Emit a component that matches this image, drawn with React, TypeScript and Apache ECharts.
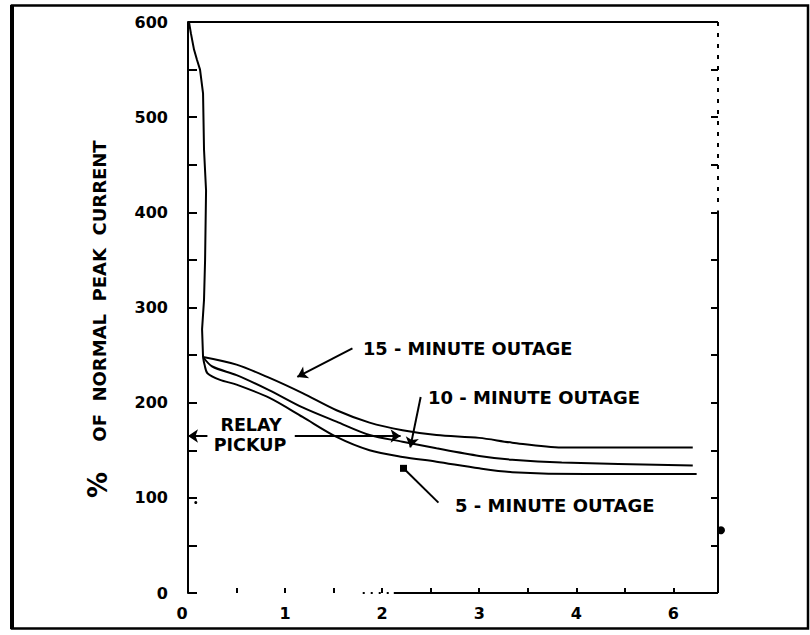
import React, { useEffect, useRef } from "react";
import * as echarts from "echarts";

// Axis labels
const xTickLabels = ["0", "1", "2", "3", "4", "6"];
const yTickLabels = ["0", "100", "200", "300", "400", "500", "600"];
const xMax = 5.46;

// Initial inrush (time in hours, % of normal peak)
const surgeT = [0.01, 0.03, 0.062, 0.093, 0.124, 0.155, 0.165, 0.186, 0.176, 0.165, 0.145, 0.155];
const surgeV = [600, 588, 571, 560, 550, 525, 466, 423, 350, 308, 277, 248];

// Cold-load pickup curves
const outage15T = [0.155, 0.5, 0.84, 1.18, 1.53, 1.87, 2.21, 2.56, 3.0, 3.34, 3.85, 5.2];
const outage15V = [248, 240, 226, 210, 192, 179, 171, 166, 163, 158, 153, 153];
const outage10T = [0.155, 0.25, 0.5, 0.84, 1.18, 1.53, 1.87, 2.21, 2.56, 3.0, 3.34, 3.85, 5.2];
const outage10V = [248, 238, 229, 213, 195, 180, 166, 159, 152, 144, 140, 137, 134];
const outage5T = [0.155, 0.17, 0.2, 0.33, 0.5, 0.84, 1.18, 1.53, 1.87, 2.21, 2.56, 3.0, 3.34, 4.1, 5.24];
const outage5V = [248, 240, 231, 224, 219, 205, 185, 164, 150, 143, 138, 131, 127, 125, 125];

const relayPickup = 165;

const zip = (t: number[], v: number[]) => t.map((x, i) => [x, v[i]]);

const FONT = "DejaVu Sans";
const BLACK = "#000";

export default function App() {
  const ref = useRef<HTMLDivElement>(null);
  useEffect(() => {
    if (!ref.current) return;
    const chart = echarts.init(ref.current, undefined, { renderer: "svg" });
    const curveLine = { color: BLACK, width: 2 };
    const txt = (text: string, x: number, y: number, align = "left", size = 18) => ({
      type: "text",
      x,
      y,
      style: {
        text,
        fill: BLACK,
        font: `bold ${size}px "${FONT}"`,
        textAlign: align,
        textVerticalAlign: "middle",
      },
    });
    chart.setOption({
      animation: false,
      backgroundColor: "#fff",
      grid: { left: 188, right: 92, top: 22, bottom: 42 },
      xAxis: {
        type: "value",
        min: 0,
        max: xMax,
        interval: 0.5,
        axisLine: { show: false },
        axisTick: { show: true, inside: true, length: 5, lineStyle: { color: BLACK, width: 2 } },
        axisLabel: {
          formatter: (v: number) =>
            v === 0 ? "{z|" + xTickLabels[0] + "}" : Number.isInteger(v) ? xTickLabels[v] ?? "" : "",
          color: BLACK,
          fontSize: 16,
          fontWeight: "bold",
          fontFamily: FONT,
          margin: 12,
          rich: {
            z: { fontSize: 16, fontWeight: "bold", fontFamily: FONT, color: BLACK, padding: [0, 12, 0, 0] },
          },
        },
        splitLine: { show: false },
      },
      yAxis: [
        {
          type: "value",
          min: 0,
          max: 600,
          interval: 50,
          axisLine: { show: true, lineStyle: { color: BLACK, width: 2 } },
          axisTick: { show: true, inside: true, length: 9, lineStyle: { color: BLACK, width: 2 } },
          axisLabel: {
            formatter: (v: number) => (v % 100 === 0 ? yTickLabels[v / 100] : ""),
            color: BLACK,
            fontSize: 16,
            fontWeight: "bold",
            fontFamily: FONT,
            margin: 20,
          },
          splitLine: { show: false },
        },
        {
          type: "value",
          position: "right",
          min: 0,
          max: 600,
          interval: 50,
          axisLine: { show: false },
          axisTick: { show: true, inside: true, length: 7, lineStyle: { color: BLACK, width: 2 } },
          axisLabel: { show: false },
          splitLine: { show: false },
        },
      ],
      series: [
        {
          name: "surge",
          type: "line",
          data: zip(surgeT, surgeV),
          symbol: "none",
          lineStyle: curveLine,
          markLine: {
            silent: true,
            symbol: "none",
            label: { show: false },
            lineStyle: { color: BLACK, width: 2, type: "solid" },
            data: [
              [{ coord: [0, 600] }, { coord: [xMax, 600] }],
              [{ coord: [xMax, 402] }, { coord: [xMax, 0] }],
              [{ coord: [xMax, 600], lineStyle: { type: [4, 7], width: 2 } }, { coord: [xMax, 406] }],
              [{ coord: [2.12, 0] }, { coord: [xMax, 0] }],
              [{ coord: [1.8, 0], lineStyle: { type: [2, 6], width: 2 } }, { coord: [2.12, 0] }],
            ],
          },
          markPoint: {
            silent: true,
            label: { show: false },
            data: [
              { coord: [xMax, 66], symbol: "circle", symbolSize: 8, symbolOffset: [3, 0], itemStyle: { color: BLACK } },
              { coord: [0.08, 95], symbol: "circle", symbolSize: 3, itemStyle: { color: BLACK } },
            ],
          },
        },
        {
          name: "15 - MINUTE OUTAGE",
          type: "line",
          data: zip(outage15T, outage15V),
          symbol: "none",
          smooth: 0.3,
          lineStyle: curveLine,
        },
        {
          name: "10 - MINUTE OUTAGE",
          type: "line",
          data: zip(outage10T, outage10V),
          symbol: "none",
          smooth: 0.3,
          lineStyle: curveLine,
        },
        {
          name: "5 - MINUTE OUTAGE",
          type: "line",
          data: zip(outage5T, outage5V),
          symbol: "none",
          smooth: 0.3,
          lineStyle: curveLine,
          markLine: {
            silent: true,
            symbol: ["none", "arrow"],
            symbolSize: 10,
            label: { show: false },
            lineStyle: { color: BLACK, width: 2, type: "solid" },
            data: [
              [{ coord: [1.694, 257] }, { coord: [1.126, 227] }],
              [{ coord: [2.397, 206] }, { coord: [2.29, 153] }],
              [
                { coord: [2.22, 131], symbol: "rect", symbolSize: 7, symbolRotate: 0 },
                { coord: [2.58, 95], symbol: "none" },
              ],
              [{ coord: [0, relayPickup], symbol: "arrow" }, { coord: [0.2, relayPickup], symbol: "none" }],
              [{ coord: [1.1, relayPickup], symbol: "none" }, { coord: [2.19, relayPickup], symbol: "arrow" }],
            ],
          },
        },
      ],
      graphic: [
        {
          type: "rect",
          shape: { x: 12, y: 5.5, width: 796, height: 623 },
          style: { fill: "none", stroke: BLACK, lineWidth: 2.5 },
        },
        {
          type: "line",
          shape: { x1: 12, y1: 5, x2: 12, y2: 629 },
          style: { stroke: BLACK, lineWidth: 4 },
        },
        txt("15 - MINUTE OUTAGE", 363, 348, "left", 17.8),
        txt("10 - MINUTE OUTAGE", 428, 397),
        txt("5 - MINUTE OUTAGE", 455, 505),
        txt("RELAY", 251, 425, "center", 17.5),
        txt("PICKUP", 250, 445, "center", 17.5),
        {
          type: "text",
          x: 99,
          y: 291,
          rotation: Math.PI / 2,
          style: {
            text: "OF\u00a0 NORMAL\u00a0 PEAK\u00a0 CURRENT",
            fill: BLACK,
            font: `bold 18px "${FONT}"`,
            textAlign: "center",
            textVerticalAlign: "middle",
          },
        },
        {
          type: "text",
          x: 98,
          y: 485,
          rotation: Math.PI / 2,
          style: {
            text: "%",
            fill: BLACK,
            font: `bold 26px "${FONT}"`,
            textAlign: "center",
            textVerticalAlign: "middle",
          },
        },
      ],
    });
    return () => chart.dispose();
  }, []);
  return (
    <div
      ref={ref}
      style={{ position: "fixed", left: 0, top: 0, width: 810, height: 635, background: "#fff" }}
    />
  );
}
